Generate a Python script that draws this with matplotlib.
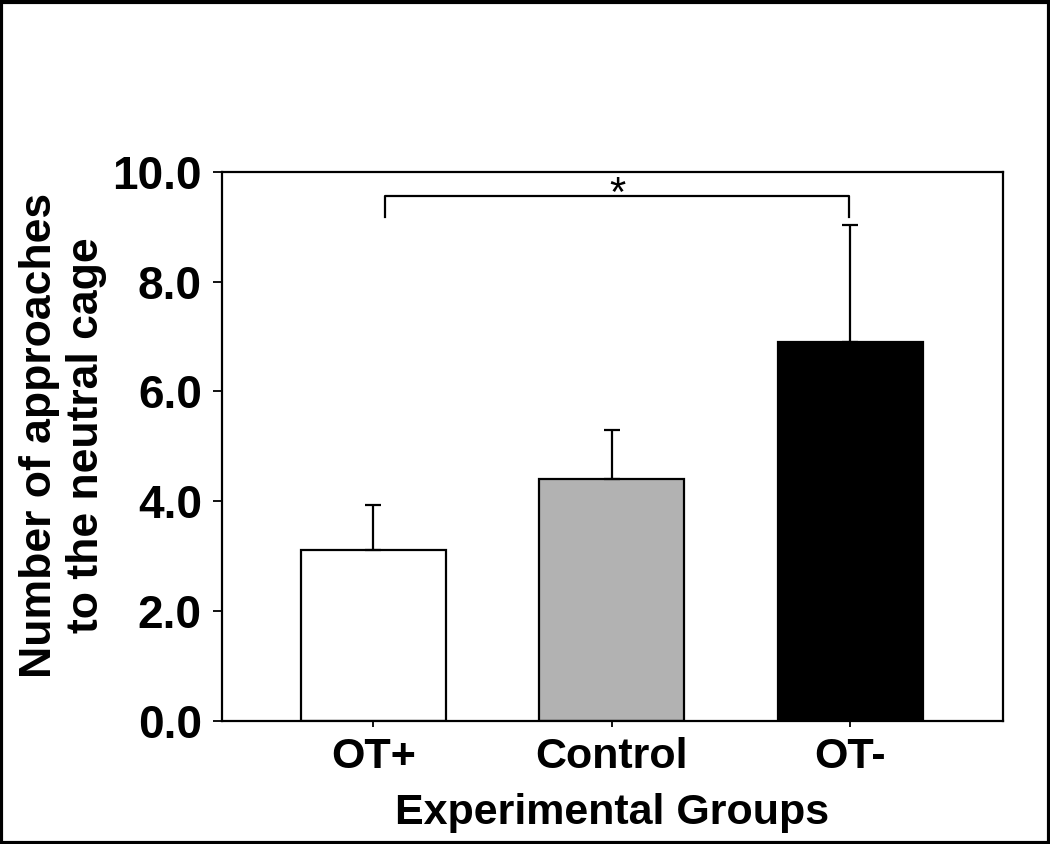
import numpy as np
import matplotlib
matplotlib.use('Agg')
import matplotlib.pyplot as plt
from matplotlib.patches import Rectangle

# data
groups = ['OT+', 'Control', 'OT-']
means = [3.11, 4.40, 6.90]
sem_up = [0.82, 0.90, 2.13]
bar_colors = ['white', '#b2b2b2', 'black']
yticks = [0.0, 2.0, 4.0, 6.0, 8.0, 10.0]

# significance bracket between OT+ and OT-
sig_pair = (0.05, 1.995)
sig_top = 9.56
sig_drop = 9.18
sig_text = '*'

plt.rcParams['font.family'] = ['Liberation Sans', 'DejaVu Sans']
plt.rcParams['font.weight'] = 'bold'

fig = plt.figure(figsize=(10.5, 8.44), dpi=100)
ax = fig.add_axes([0.2114, 0.1461, 0.7436, 0.6501])

x = np.arange(len(groups))
ax.bar(x, means, width=0.608, color=bar_colors, edgecolor='black', linewidth=1.6, zorder=2)
ax.errorbar(x, means, yerr=[np.zeros(len(sem_up)), sem_up], fmt='none', ecolor='black',
            elinewidth=1.6, capsize=5.8, capthick=1.6, zorder=3)

# bracket
ax.plot([sig_pair[0], sig_pair[0], sig_pair[1], sig_pair[1]],
        [sig_drop, sig_top, sig_top, sig_drop], color='black', lw=1.6, zorder=3)
ax.text((sig_pair[0] + sig_pair[1]) / 2, 9.38, sig_text, ha='center', va='baseline',
        fontsize=30, fontweight='normal')

ax.set_xlim(-0.635, 2.639)
ax.set_ylim(0, 10)
ax.set_xticks(x)
ax.set_xticklabels(groups, fontsize=31, fontweight='bold')
ax.set_yticks(yticks)
ax.set_yticklabels([f'{v:.1f}' for v in yticks], fontsize=33, fontweight='bold')
ax.tick_params(axis='y', direction='out', length=6.5, width=1.3, pad=8)
ax.tick_params(axis='x', direction='out', length=4.5, width=1.3, pad=7)
for s in ax.spines.values():
    s.set_linewidth(1.6)

ax.set_xlabel('Experimental Groups', fontsize=31, fontweight='bold', labelpad=11.5)
ax.set_ylabel('Number of approaches\nto the neutral cage', fontsize=32, fontweight='bold',
              linespacing=1.2)
ax.yaxis.set_label_coords(-0.147, 0.52)

# frame around the whole figure
fig.patches.append(Rectangle((0.001, 0.001), 0.998, 0.997, transform=fig.transFigure,
                             fill=False, edgecolor='black', linewidth=3))

fig.savefig('out.png', dpi=100)
